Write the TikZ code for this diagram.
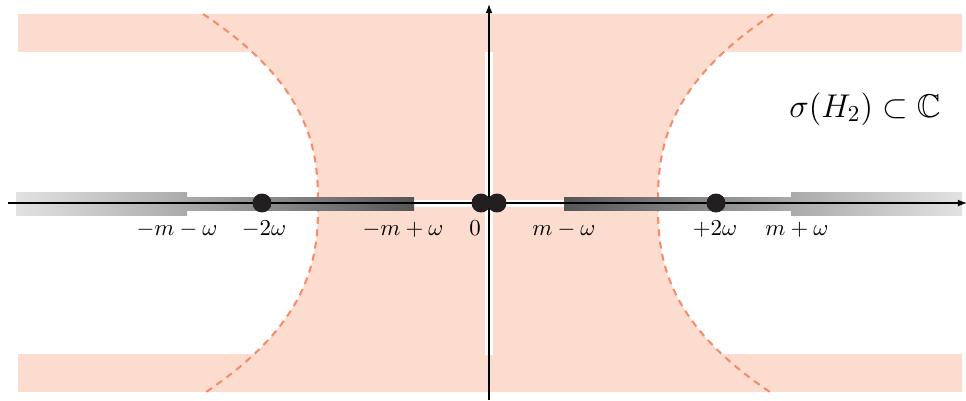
\documentclass[tikz,border=0pt]{standalone}
\usepackage{amssymb}
\usetikzlibrary{arrows.meta}
\definecolor{pinkfill}{RGB}{252,220,206}
\definecolor{dashcol}{RGB}{244,140,110}
\definecolor{barA}{RGB}{226,226,226}
\definecolor{barB}{RGB}{170,170,170}
\definecolor{barC}{RGB}{86,86,86}
\definecolor{dotcol}{RGB}{35,31,32}
\begin{document}
\begin{tikzpicture}[x=0.4375pt,y=-0.4375pt,
  dot/.style={circle,fill=dotcol,inner sep=0pt,minimum size=8.3pt},
  lab/.style={anchor=base,inner sep=0pt},
  bound/.style={dashcol,line width=0.9pt,dash pattern=on 3pt off 2.4pt},
  axis/.style={line width=0.5pt,-{Latex[length=4pt,width=3pt]}}]
\useasboundingbox (0,0) rectangle (966,400);
% pink region
\fill[pinkfill] (18,14) rectangle (962,52);
\fill[pinkfill] (18,354) rectangle (962,392);
\fill[pinkfill] plot[domain=-190:188,samples=90] ({318-23.11*(abs(\x)/100)^2.5},{204+\x})
  -- plot[domain=188:-190,samples=90] ({658+23.11*(abs(\x)/100)^2.5},{204+\x}) -- cycle;
\draw[bound] plot[domain=-190:188,samples=90] ({318-23.11*(abs(\x)/100)^2.5},{204+\x});
\draw[bound] plot[domain=-190:188,samples=90] ({658+23.11*(abs(\x)/100)^2.5},{204+\x});
% white strips
\fill[white] (485,52) rectangle (493,355);
\fill[white] (414,199.5) rectangle (564,207);
% bars
\shade[left color=barA,right color=barB] (16,192) rectangle (187,215);
\shade[left color=barB,right color=barC] (187,197) rectangle (414,210);
\shade[left color=barC,right color=barB] (564,197) rectangle (791,210);
\shade[left color=barB,right color=barA] (791,192) rectangle (962,215);
% axes
\coordinate (xs) at (8,203);
\coordinate (xe) at (967,203);
\coordinate (ys) at (489,400);
\coordinate (ye) at (489,4);
\draw[axis] (xs) -- (xe);
\draw[axis] (ys) -- (ye);
% dots
\node[dot] (dm2) at (262,203) {};
\node[dot] (d0a) at (481,203) {};
\node[dot] (d0b) at (497,203) {};
\node[dot] (dp2) at (716,203) {};
% labels
\node[lab] (l1) at (177,235.5) {$-m-\omega$};
\node[lab] (l2) at (264,235.5) {$-2\omega$};
\node[lab] (l3) at (403,235.5) {$-m+\omega$};
\node[lab] (l4) at (475,235.5) {$0$};
\node[lab] (l5) at (564,235.5) {$m-\omega$};
\node[lab] (l6) at (715,235.5) {$+2\omega$};
\node[lab] (l7) at (797,235.5) {$m+\omega$};
\node[lab] (sig) at (865,117) {\Large $\sigma(H_2)\subset\mathbb{C}$};
\end{tikzpicture}
\end{document}
